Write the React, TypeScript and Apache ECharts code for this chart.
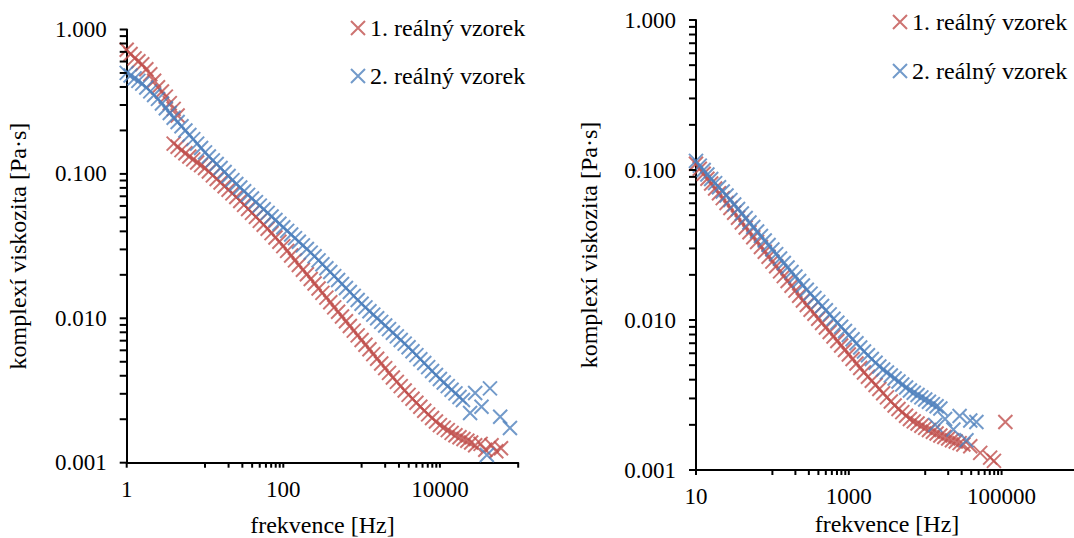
import React, { useEffect, useRef } from "react";
import * as echarts from "echarts";

const RED = "#C0504D";
const BLUE = "#4F81BD";
const FONT = "Liberation Serif";
const FS_TICK = 23;
const FS_TEXT = 24;
const CROSS = "path://M0,0L10,10M10,0L0,10";

const seriesNames = ["1. reálný vzorek", "2. reálný vzorek"];
const xTitle = "frekvence [Hz]";
const yTitle = "komplexí viskozita [Pa·s]";

// ---------- left panel ----------
const leftRedFreq = [
  1, 1.12, 1.26, 1.41, 1.58, 1.78, 2.0, 2.24, 2.51, 2.82, 3.16, 3.55, 3.98, 4.47,
  3.98, 4.47, 5.01, 5.62, 6.31, 7.08, 7.94, 8.91,
  10, 11.2, 12.6, 14.1, 15.8, 17.8, 20.0, 22.4, 25.1, 28.2, 31.6, 35.5, 39.8, 44.7, 50.1, 56.2, 63.1, 70.8, 79.4, 89.1,
  100, 112, 126, 141, 158, 178, 200, 224, 251, 282, 316, 355, 398, 447, 501, 562, 631, 708, 794, 891,
  1000, 1120, 1260, 1410, 1580, 1780, 2000, 2240, 2510, 2820, 3160, 3550, 3980, 4470, 5010, 5620, 6310, 7080, 7940, 8910,
  10000, 11200, 12600, 14100, 15800, 17800, 20000, 22400, 25100,
  28200, 33100, 38000, 45700, 52500, 60300,
];
const leftRedVisc = [
  0.724, 0.676, 0.631, 0.603, 0.575, 0.531, 0.49, 0.442, 0.398, 0.372, 0.343, 0.309, 0.282, 0.254,
  0.162, 0.154, 0.146, 0.139, 0.132, 0.126, 0.12, 0.115,
  0.11, 0.104, 0.0977, 0.0923, 0.0871, 0.0822, 0.0776, 0.0733, 0.0692, 0.0649, 0.061, 0.0571, 0.0537, 0.0504, 0.0473, 0.0444, 0.0417, 0.0389, 0.0363, 0.0339,
  0.0316, 0.0293, 0.0272, 0.0252, 0.0234, 0.0217, 0.0202, 0.0187, 0.0174, 0.0161, 0.015, 0.0139, 0.0129, 0.0119, 0.0111, 0.0103, 0.00955, 0.00885, 0.00822, 0.00762,
  0.00708, 0.00656, 0.0061, 0.00565, 0.00525, 0.00486, 0.00452, 0.00419, 0.00389, 0.00363, 0.00339, 0.00316, 0.00295, 0.00277, 0.0026, 0.00244, 0.00229, 0.00216, 0.00204, 0.00193,
  0.00182, 0.00175, 0.00168, 0.00161, 0.00155, 0.0015, 0.00146, 0.00142, 0.00138,
  0.00132, 0.00135, 0.00123, 0.00132, 0.0012, 0.00126,
];
const leftBlueFreq = [
  1, 1.12, 1.26, 1.41, 1.58, 1.78, 2.0, 2.24, 2.51, 2.82, 3.16, 3.55, 3.98, 4.47, 5.01, 5.62, 6.31, 7.08, 7.94, 8.91,
  10, 11.2, 12.6, 14.1, 15.8, 17.8, 20.0, 22.4, 25.1, 28.2, 31.6, 35.5, 39.8, 44.7, 50.1, 56.2, 63.1, 70.8, 79.4, 89.1,
  100, 112, 126, 141, 158, 178, 200, 224, 251, 282, 316, 355, 398, 447, 501, 562, 631, 708, 794, 891,
  1000, 1120, 1260, 1410, 1580, 1780, 2000, 2240, 2510, 2820, 3160, 3550, 3980, 4470, 5010, 5620, 6310, 7080, 7940, 8910,
  10000, 11200, 12600, 14100, 15800, 17800,
  19700, 24300, 28200, 34000, 43600, 39800, 58900, 78500,
];
const leftBlueVisc = [
  0.501, 0.48, 0.459, 0.441, 0.422, 0.397, 0.373, 0.352, 0.331, 0.307, 0.285, 0.264, 0.245, 0.229, 0.214, 0.2, 0.186, 0.174, 0.162, 0.151,
  0.141, 0.132, 0.124, 0.117, 0.11, 0.103, 0.0966, 0.0906, 0.0851, 0.0804, 0.0759, 0.0716, 0.0676, 0.0638, 0.0603, 0.0569, 0.0537, 0.0507, 0.0479, 0.0452,
  0.0427, 0.0403, 0.038, 0.0359, 0.0339, 0.032, 0.0302, 0.0285, 0.0269, 0.0252, 0.0237, 0.0222, 0.0209, 0.0196, 0.0184, 0.0173, 0.0162, 0.0152, 0.0143, 0.0134,
  0.0126, 0.0119, 0.0112, 0.0106, 0.01, 0.00944, 0.00891, 0.00841, 0.00794, 0.0075, 0.00708, 0.00668, 0.00631, 0.00592, 0.00556, 0.00521, 0.0049, 0.00459, 0.00432, 0.00405,
  0.0038, 0.00359, 0.00339, 0.0032, 0.00302, 0.00285,
  0.00272, 0.00221, 0.00304, 0.00244, 0.00327, 0.00113, 0.00208, 0.00174,
];

// ---------- right panel ----------
const rightRedFreq = [
  10, 11.2, 12.6, 14.1, 15.8, 17.8, 20.0, 22.4, 25.1, 28.2, 31.6, 35.5, 39.8, 44.7, 50.1, 56.2, 63.1, 70.8, 79.4, 89.1,
  100, 112, 126, 141, 158, 178, 200, 224, 251, 282, 316, 355, 398, 447, 501, 562, 631, 708, 794, 891,
  1000, 1120, 1260, 1410, 1580, 1780, 2000, 2240, 2510, 2820, 3160, 3550, 3980, 4470, 5010, 5620, 6310, 7080, 7940, 8910,
  10000, 11200, 12600, 14100, 15800, 17800, 20000, 22400, 25100, 28200, 31600,
  38900, 52500, 70800, 79400, 112000,
];
const rightRedVisc = [
  0.11, 0.102, 0.0944, 0.0875, 0.0813, 0.0753, 0.07, 0.0649, 0.0603, 0.0558, 0.0519, 0.0481, 0.0447, 0.0414, 0.0385, 0.0356, 0.0331, 0.0307, 0.0285, 0.0264,
  0.0245, 0.0228, 0.0211, 0.0196, 0.0182, 0.0169, 0.0157, 0.0145, 0.0135, 0.0126, 0.0117, 0.011, 0.0102, 0.00955, 0.00891, 0.00832, 0.00776, 0.00724, 0.00676, 0.00631,
  0.00589, 0.0055, 0.00513, 0.00479, 0.00447, 0.00419, 0.00394, 0.00369, 0.00347, 0.00325, 0.00305, 0.00286, 0.00269, 0.00255, 0.00243, 0.0023, 0.00219, 0.00211, 0.00204, 0.00197,
  0.00191, 0.00185, 0.0018, 0.00175, 0.0017, 0.00166, 0.00162, 0.00158, 0.00155, 0.00151, 0.00148,
  0.00144, 0.0013, 0.00121, 0.00115, 0.00209,
];
const rightBlueFreq = [
  10, 11.2, 12.6, 14.1, 15.8, 17.8, 20.0, 22.4, 25.1, 28.2, 31.6, 35.5, 39.8, 44.7, 50.1, 56.2, 63.1, 70.8, 79.4, 89.1,
  100, 112, 126, 141, 158, 178, 200, 224, 251, 282, 316, 355, 398, 447, 501, 562, 631, 708, 794, 891,
  1000, 1120, 1260, 1410, 1580, 1780, 2000, 2240, 2510, 2820, 3160, 3550, 3980, 4470, 5010, 5620, 6310, 7080, 7940, 8910,
  10000, 11200, 12600, 14100, 15800,
  13500, 18200, 23400, 28200, 34700, 38900, 46800,
];
const rightBlueVisc = [
  0.115, 0.107, 0.1, 0.0933, 0.0871, 0.0817, 0.0767, 0.0719, 0.0676, 0.0631, 0.0589, 0.055, 0.0513, 0.0479, 0.0447, 0.0417, 0.0389, 0.0363, 0.0339, 0.0316,
  0.0295, 0.0275, 0.0257, 0.024, 0.0224, 0.0209, 0.0195, 0.0182, 0.017, 0.0159, 0.015, 0.014, 0.0132, 0.0124, 0.0116, 0.0109, 0.0102, 0.00959, 0.00902, 0.00845,
  0.00794, 0.00745, 0.007, 0.00656, 0.00617, 0.00582, 0.0055, 0.00519, 0.0049, 0.00468, 0.00447, 0.00427, 0.00407, 0.00389, 0.00372, 0.00355, 0.00339, 0.00327, 0.00316, 0.00305,
  0.00295, 0.00285, 0.00275, 0.00266, 0.00257,
  0.002, 0.00219, 0.00186, 0.00229, 0.00158, 0.00214, 0.00209,
];

// ---------- ticks ----------
const leftXMajor = [1, 100, 10000];
const leftXLabels = ["1", "100", "10000"];
const leftXMinor = [10, 20, 30, 40, 50, 60, 70, 80, 90, 1000, 2000, 3000, 4000, 5000, 6000, 7000, 8000, 9000, 100000];
const rightXMajor = [10, 1000, 100000];
const rightXLabels = ["10", "1000", "100000"];
const rightXMinor = [100, 200, 300, 400, 500, 600, 700, 800, 900, 10000, 20000, 30000, 40000, 50000, 60000, 70000, 80000, 90000];
const yMajor = [0.001, 0.01, 0.1, 1];
const yLabels = ["0.001", "0.010", "0.100", "1.000"];
const yMinor = [
  0.002, 0.003, 0.004, 0.005, 0.006, 0.007, 0.008, 0.009,
  0.02, 0.03, 0.04, 0.05, 0.06, 0.07, 0.08, 0.09,
  0.2, 0.3, 0.4, 0.5, 0.6, 0.7, 0.8, 0.9,
];

const pairs = (fs: number[], vs: number[]) => fs.map((f, i) => [f, vs[i]]);

type Tick = { v: number; len: number; label?: string };

function makeTicks(values: number[], labels: string[] | null, len: number): Tick[] {
  return values.map((v, i) => ({ v, len, label: labels ? labels[i] : undefined }));
}

function tickSeries(dir: "x" | "y", grid: number, ticks: Tick[], other: number) {
  return {
    type: "custom",
    name: "ticks-" + dir + grid,
    xAxisIndex: grid,
    yAxisIndex: grid,
    silent: true,
    clip: false,
    z: 10,
    data: ticks.map((t) => (dir === "x" ? [t.v, other] : [other, t.v])),
    renderItem: (params: any, api: any) => {
      const t = ticks[params.dataIndex];
      const p = api.coord([api.value(0), api.value(1)]);
      const children: any[] = [];
      if (dir === "x") {
        children.push({
          type: "line",
          shape: { x1: p[0], y1: p[1], x2: p[0], y2: p[1] + t.len },
          style: { stroke: "#000", lineWidth: 2 },
        });
        if (t.label) {
          children.push({
            type: "text",
            x: p[0],
            y: p[1] + 15,
            style: { text: t.label, fill: "#000", fontSize: FS_TICK, fontFamily: FONT, align: "center", verticalAlign: "top" },
          });
        }
      } else {
        children.push({
          type: "line",
          shape: { x1: p[0] - t.len, y1: p[1], x2: p[0], y2: p[1] },
          style: { stroke: "#000", lineWidth: 2 },
        });
        if (t.label) {
          children.push({
            type: "text",
            x: p[0] - 20,
            y: p[1],
            style: { text: t.label, fill: "#000", fontSize: FS_TICK, fontFamily: FONT, align: "right", verticalAlign: "middle" },
          });
        }
      }
      return { type: "group", children };
    },
  };
}

function scatter(name: string, grid: number, data: number[][], color: string) {
  return {
    type: "scatter",
    name,
    xAxisIndex: grid,
    yAxisIndex: grid,
    data,
    symbol: CROSS,
    symbolSize: 14,
    silent: true,
    emphasis: { disabled: true },
    itemStyle: { color: "transparent", borderColor: color, borderWidth: 2 },
    z: 5,
  };
}

function axisCommon() {
  return {
    axisLine: { show: true, onZero: false, lineStyle: { color: "#000", width: 2 } },
    axisTick: { show: false },
    axisLabel: { show: false },
    splitLine: { show: false },
    minorTick: { show: false },
    minorSplitLine: { show: false },
    nameLocation: "middle",
    nameTextStyle: { fontSize: FS_TEXT, fontFamily: FONT, color: "#000" },
  };
}

function legend(left: number, top: number, gap: number) {
  return {
    left,
    top,
    orient: "vertical",
    padding: 0,
    itemGap: gap,
    itemWidth: 14,
    itemHeight: 14,
    selectedMode: false,
    textStyle: { fontSize: FS_TEXT, fontFamily: FONT, color: "#000", lineHeight: 24 },
    data: [
      { name: seriesNames[0], icon: CROSS, itemStyle: { color: "transparent", borderColor: RED, borderWidth: 2 } },
      { name: seriesNames[1], icon: CROSS, itemStyle: { color: "transparent", borderColor: BLUE, borderWidth: 2 } },
    ],
  };
}

export default function App() {
  const ref = useRef<HTMLDivElement>(null);
  useEffect(() => {
    if (!ref.current) return;
    const chart = echarts.init(ref.current, null, { renderer: "svg" });
    const option: any = {
      animation: false,
      backgroundColor: "#ffffff",
      grid: [
        { left: 126.7, top: 29.5, width: 391.5, height: 433.2, outerBoundsMode: "none" },
        { left: 696, top: 20, width: 382, height: 450, outerBoundsMode: "none" },
      ],
      xAxis: [
        { ...axisCommon(), gridIndex: 0, type: "log", logBase: 10, min: 1, max: 100000, name: xTitle, nameGap: 50 },
        { ...axisCommon(), gridIndex: 1, type: "log", logBase: 10, min: 10, max: 1000000, name: xTitle, nameGap: 42 },
      ],
      yAxis: [
        { ...axisCommon(), gridIndex: 0, type: "log", logBase: 10, min: 0.001, max: 1, name: yTitle, nameGap: 97 },
        { ...axisCommon(), gridIndex: 1, type: "log", logBase: 10, min: 0.001, max: 1, name: yTitle, nameGap: 95 },
      ],
      legend: [legend(350, 16, 24), legend(892, 10, 25)],
      series: [
        scatter(seriesNames[0], 0, pairs(leftRedFreq, leftRedVisc), RED),
        scatter(seriesNames[1], 0, pairs(leftBlueFreq, leftBlueVisc), BLUE),
        scatter(seriesNames[0], 1, pairs(rightRedFreq, rightRedVisc), RED),
        scatter(seriesNames[1], 1, pairs(rightBlueFreq, rightBlueVisc), BLUE),
        tickSeries("x", 0, [...makeTicks(leftXMajor, leftXLabels, 5), ...makeTicks(leftXMinor, null, 5)], 0.001),
        tickSeries("x", 1, [...makeTicks(rightXMajor, rightXLabels, 5), ...makeTicks(rightXMinor, null, 5)], 0.001),
        tickSeries("y", 0, [...makeTicks(yMajor, yLabels, 7), ...makeTicks(yMinor, null, 7)], 1),
        tickSeries("y", 1, [...makeTicks(yMajor, yLabels, 7), ...makeTicks(yMinor, null, 7)], 10),
      ],
    };
    chart.setOption(option);
    return () => chart.dispose();
  }, []);
  return (
    <div
      ref={ref}
      style={{ position: "fixed", left: 0, top: 0, width: 1074, height: 538, background: "#fff" }}
    />
  );
}
